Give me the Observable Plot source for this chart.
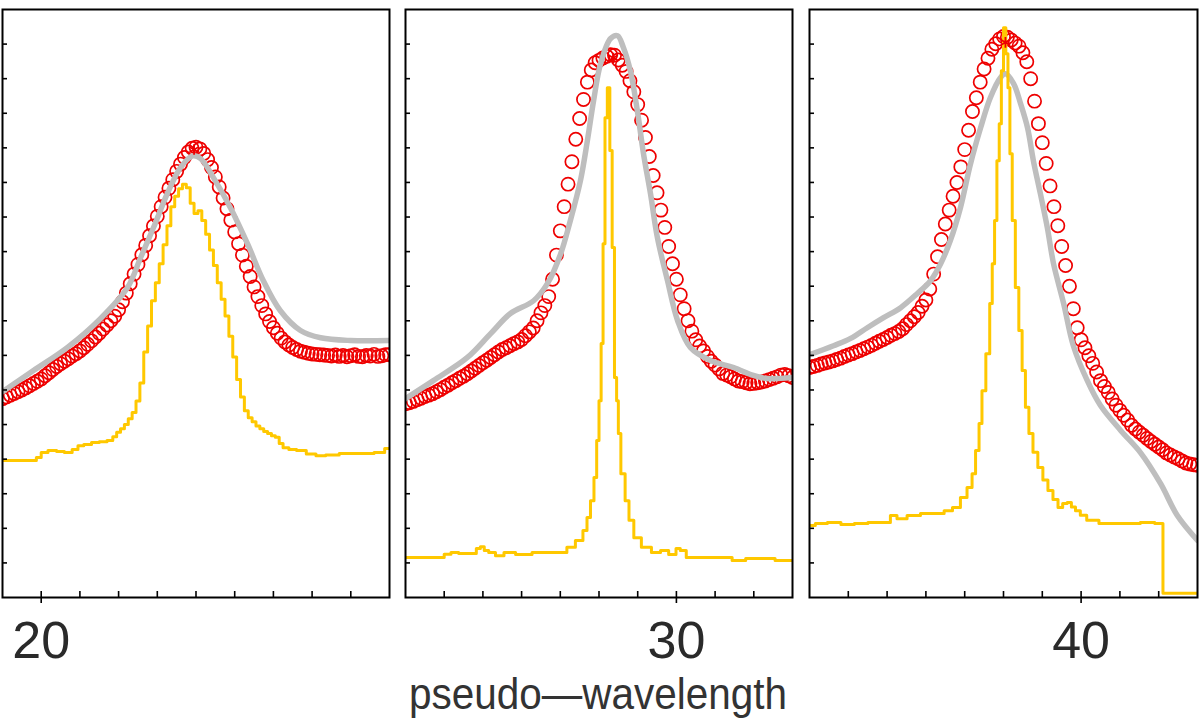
<!DOCTYPE html>
<html>
<head>
<meta charset="utf-8">
<script src="https://cdn.jsdelivr.net/npm/d3@7"></script>
<script src="https://cdn.jsdelivr.net/npm/@observablehq/plot@0.6"></script>
<style>
  body { margin: 0; background: #fff; width: 1200px; height: 722px; position: relative; overflow: hidden; font-family: "Liberation Sans", sans-serif; }
  #row { position: absolute; left: 0; top: 0; display: flex; }
  #xlabel { position: absolute; left: -2px; top: 677px; width: 1200px; text-align: center; font-size: 44px; line-height: 34px; color: #333; transform: scaleX(0.92); }
</style>
</head>
<body>
<div id="row"></div>
<div id="xlabel">pseudo—wavelength</div>
<script>
// x ranges of the three panels and the one labelled tick in each
const xDomains = [[19, 29], [23, 33], [33, 43]]
const majorTicks = [20, 30, 40]

// red circles, one value every 0.1 starting at the left edge of each panel
const red1 = [
  5.75, 5.80, 5.85, 5.90, 5.95, 6.00, 6.06, 6.12, 6.19, 6.25,
  6.32, 6.41, 6.50, 6.59, 6.68, 6.76, 6.83, 6.90, 6.98, 7.05,
  7.13, 7.22, 7.32, 7.42, 7.53, 7.64, 7.76, 7.88, 8.00, 8.13,
  8.32, 8.55, 8.80, 9.07, 9.35, 9.63, 9.91, 10.18, 10.46, 10.74,
  11.02, 11.30, 11.57, 11.83, 12.08, 12.32, 12.53, 12.72, 12.88, 12.99,
  13.02, 12.97, 12.84, 12.66, 12.43, 12.16, 11.87, 11.55, 11.24, 10.91,
  10.57, 10.23, 9.90, 9.58, 9.28, 8.98, 8.70, 8.44, 8.20, 7.98,
  7.80, 7.64, 7.50, 7.39, 7.30, 7.23, 7.17, 7.12, 7.09, 7.06,
  7.04, 7.03, 7.02, 7.01, 7.00, 6.98, 7.01, 6.97, 7.00, 6.96,
  6.99, 7.02, 6.97, 6.96, 7.00, 6.98, 7.03, 6.97, 6.99, 7.02, 7.02
]
const red2 = [
  5.60, 5.63, 5.67, 5.72, 5.76, 5.81, 5.85, 5.89, 5.95, 6.01,
  6.08, 6.14, 6.21, 6.27, 6.34, 6.40, 6.47, 6.55, 6.63, 6.71,
  6.79, 6.86, 6.94, 7.02, 7.10, 7.17, 7.22, 7.28, 7.34, 7.39,
  7.46, 7.57, 7.68, 7.79, 8.00, 8.23, 8.44, 8.70, 9.20, 9.90,
  10.60, 11.30, 11.95, 12.60, 13.25, 13.85, 14.40, 14.90, 15.25, 15.46,
  15.53, 15.60, 15.65, 15.69, 15.68, 15.54, 15.39, 15.21, 14.94, 14.62,
  14.25, 13.80, 13.30, 12.75, 12.20, 11.70, 11.20, 10.70, 10.15, 9.65,
  9.20, 8.75, 8.35, 8.00, 7.70, 7.45, 7.27, 7.13, 6.97, 6.83,
  6.72, 6.61, 6.48, 6.43, 6.38, 6.32, 6.26, 6.24, 6.21, 6.18,
  6.19, 6.21, 6.23, 6.26, 6.30, 6.34, 6.38, 6.43, 6.45, 6.41, 6.36
]
const red3 = [
  6.65, 6.68, 6.71, 6.75, 6.78, 6.81, 6.84, 6.88, 6.92, 6.97,
  7.01, 7.05, 7.10, 7.14, 7.19, 7.24, 7.29, 7.35, 7.41, 7.46,
  7.52, 7.58, 7.63, 7.69, 7.77, 7.89, 8.00, 8.12, 8.24, 8.42,
  8.60, 8.92, 9.35, 9.85, 10.35, 10.80, 11.20, 11.60, 12.00, 12.45,
  12.95, 13.51, 14.05, 14.45, 14.90, 15.28, 15.59, 15.85, 16.01, 16.15,
  16.22, 16.20, 16.12, 16.03, 15.94, 15.75, 15.49, 15.00, 14.35, 13.70,
  13.15, 12.55, 11.90, 11.30, 10.75, 10.15, 9.60, 9.00, 8.35, 7.80,
  7.45, 7.22, 6.99, 6.77, 6.52, 6.27, 6.10, 5.93, 5.74, 5.56,
  5.41, 5.27, 5.13, 4.98, 4.87, 4.78, 4.69, 4.60, 4.51, 4.43,
  4.35, 4.27, 4.18, 4.12, 4.06, 4.01, 3.95, 3.89, 3.86, 3.84, 3.82
]

// grey model curve [wavelength, value]
const gray1 = [[19.00,5.95],[19.80,6.56],[20.68,7.23],[21.53,8.06],[22.23,8.96],[22.57,9.83],[22.90,10.69],[23.26,11.68],[23.60,12.43],[23.91,12.77],[24.12,12.69],[24.45,12.14],[24.89,11.27],[25.33,10.23],[25.74,9.16],[26.18,8.29],[26.70,7.72],[27.22,7.51],[27.99,7.43],[29.00,7.43]]
const gray2 = [[23.00,5.75],[23.72,6.27],[24.60,6.94],[25.20,7.63],[25.71,8.21],[26.31,8.58],[26.67,9.08],[27.01,9.94],[27.26,10.90],[27.52,12.05],[27.70,13.21],[27.86,14.36],[28.04,15.43],[28.30,16.16],[28.48,16.24],[28.63,15.90],[28.81,15.23],[28.99,14.08],[29.15,12.83],[29.33,11.68],[29.51,10.40],[29.77,9.16],[30.03,8.01],[30.36,7.23],[30.88,6.85],[31.48,6.65],[31.99,6.42],[32.35,6.33],[33.00,6.36]]
const gray3 = [[33.00,7.02],[33.62,7.28],[34.06,7.49],[34.49,7.80],[34.91,8.09],[35.35,8.38],[35.78,8.79],[36.12,9.16],[36.38,9.65],[36.63,10.32],[36.89,11.27],[37.15,12.54],[37.41,13.58],[37.66,14.45],[37.92,15.03],[38.05,15.14],[38.26,14.86],[38.44,14.28],[38.62,13.58],[38.77,12.63],[38.95,11.68],[39.13,10.69],[39.29,9.65],[39.55,8.50],[39.80,7.28],[40.16,6.27],[40.50,5.55],[41.02,4.83],[41.53,4.19],[42.05,3.29],[42.48,2.37],[43.00,1.65]]

// yellow histogram-like profile [wavelength, value]
const yellow1 = [[19.0,3.96],[19.4,3.96],[19.8,3.96],[19.95,4.05],[20.05,4.19],[20.3,4.25],[20.5,4.22],[20.7,4.19],[20.9,4.28],[21.0,4.39],[21.2,4.42],[21.4,4.48],[21.6,4.50],[21.8,4.54],[21.9,4.65],[22.0,4.78],[22.1,4.88],[22.2,5.00],[22.3,5.17],[22.4,5.35],[22.5,5.68],[22.6,6.20],[22.7,7.10],[22.8,7.85],[22.9,8.58],[23.0,9.10],[23.1,9.65],[23.2,10.20],[23.3,10.75],[23.4,11.30],[23.5,11.60],[23.6,11.82],[23.7,11.95],[23.8,11.85],[23.9,11.40],[24.0,11.10],[24.1,11.18],[24.2,10.90],[24.3,10.50],[24.4,10.05],[24.5,9.60],[24.6,9.10],[24.7,8.62],[24.8,8.14],[24.9,7.55],[25.0,6.95],[25.1,6.30],[25.2,5.80],[25.3,5.40],[25.4,5.20],[25.5,5.08],[25.6,4.96],[25.7,4.88],[25.8,4.80],[25.9,4.74],[26.0,4.68],[26.1,4.63],[26.2,4.45],[26.3,4.33],[26.5,4.28],[26.7,4.25],[27.0,4.15],[27.2,4.10],[27.5,4.12],[27.9,4.16],[28.4,4.16],[28.8,4.19],[28.95,4.31],[29.0,4.31]]
const yellow2 = [[23.0,1.16],[23.9,1.16],[24.1,1.25],[24.25,1.30],[24.5,1.27],[24.76,1.27],[24.9,1.42],[24.97,1.47],[25.1,1.36],[25.2,1.30],[25.45,1.21],[25.64,1.30],[26.05,1.24],[26.49,1.30],[27.08,1.30],[27.26,1.45],[27.52,1.65],[27.65,1.94],[27.73,2.31],[27.83,2.80],[27.91,3.47],[27.97,4.54],[28.03,5.69],[28.08,7.34],[28.13,10.23],[28.18,13.87],[28.25,14.74],[28.31,12.92],[28.37,10.12],[28.43,6.36],[28.48,5.69],[28.52,4.74],[28.61,3.58],[28.74,2.80],[28.81,2.23],[28.99,1.73],[29.20,1.45],[29.51,1.30],[29.67,1.36],[29.93,1.24],[30.05,1.42],[30.15,1.36],[30.36,1.16],[31.40,1.16],[31.48,1.07],[32.10,1.13],[33.0,1.07]]
const yellow3 = [[33.0,2.08],[33.3,2.14],[33.62,2.17],[34.0,2.11],[34.31,2.14],[34.7,2.17],[35.01,2.17],[35.16,2.37],[35.35,2.28],[35.68,2.37],[36.04,2.43],[36.38,2.43],[36.56,2.51],[36.81,2.60],[36.97,2.89],[37.15,3.18],[37.23,3.58],[37.33,4.25],[37.41,5.03],[37.48,5.98],[37.61,7.05],[37.68,8.50],[37.74,9.65],[37.80,10.90],[37.86,12.63],[37.92,13.70],[37.97,15.23],[38.03,16.47],[38.09,15.72],[38.14,14.74],[38.19,12.83],[38.26,10.90],[38.35,8.96],[38.44,7.72],[38.52,6.56],[38.61,5.50],[38.70,4.74],[38.82,4.20],[38.95,3.76],[39.08,3.40],[39.21,3.09],[39.34,2.83],[39.47,2.60],[39.58,2.72],[39.70,2.75],[39.80,2.62],[39.91,2.51],[40.05,2.38],[40.24,2.23],[40.68,2.14],[41.35,2.14],[41.7,2.17],[42.10,2.14],[42.12,0.12],[43.0,0.12]]

// peak markers (asterisks)
const stars = [[23.95, 12.95], [28.37, 15.6], [38.05, 16.05]]

const yTicks = d3.range(1, 17)
const margins = [[2, 11], [5, 8], [9, 3]]

function panel(k, red, gray, yellow) {
  const [x0, x1] = xDomains[k]
  const redData = red.map((v, i) => ({x: x0 + i / 10, y: v}))
  return Plot.plot({
    width: 400,
    height: 672,
    marginTop: 9,
    marginBottom: 75,
    marginLeft: margins[k][0],
    marginRight: margins[k][1],
    x: {domain: xDomains[k], label: null},
    y: {domain: [0, 17], label: null},
    style: {fontFamily: "Liberation Sans", background: "white", overflow: "visible"},
    marks: [
      Plot.dot(redData, {x: 'x', y: 'y', r: 6.6, stroke: '#ee0000', strokeWidth: 1.7, clip: true}),
      Plot.line(gray, {x: d => d[0], y: d => d[1], stroke: '#bebebe', strokeWidth: 5.5, curve: 'catmull-rom', clip: true}),
      Plot.line(yellow, {x: d => d[0], y: d => d[1], stroke: '#ffc800', strokeWidth: 3, curve: 'step', clip: true}),
      Plot.dot([stars[k]], {x: d => d[0], y: d => d[1], symbol: 'asterisk', r: 5, stroke: '#ee0000', strokeWidth: 1.8}),
      Plot.axisY({ticks: yTicks, tickSize: -5, tickFormat: () => '', strokeWidth: 1.6, label: null}),
      Plot.axisX({ticks: d3.range(x0 + 1, x1), tickSize: -6, tickFormat: () => '', strokeWidth: 1.6, label: null}),
      Plot.axisX({ticks: [majorTicks[k]], tickSize: 6, tickPadding: 18, fontSize: 52, fill: '#2a2a2a', strokeWidth: 1.6, tickFormat: d => d, label: null}),
      Plot.frame({stroke: 'black', strokeWidth: 2})
    ]
  })
}

const row = d3.select('#row')
row.append(() => panel(0, red1, gray1, yellow1))
row.append(() => panel(1, red2, gray2, yellow2))
row.append(() => panel(2, red3, gray3, yellow3))
</script>
</body>
</html>
